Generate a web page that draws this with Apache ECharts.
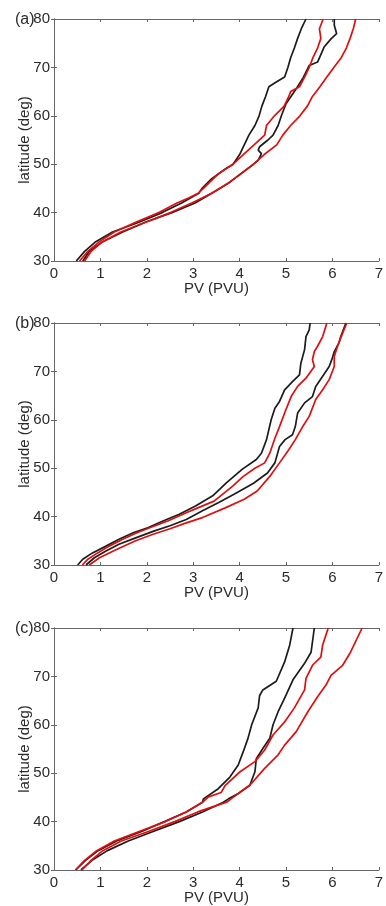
<!DOCTYPE html>
<html>
<head>
<meta charset="utf-8">
<script src="https://cdn.jsdelivr.net/npm/echarts@6/dist/echarts.min.js"></script>
<style>html,body{margin:0;padding:0;background:#fff;}#c{width:386px;height:906px;}</style>
</head>
<body>
<div id="c"></div>
<script>
// ---- axis ticks ----
var xTicks = [0, 1, 2, 3, 4, 5, 6, 7];
var yTicks = [30, 40, 50, 60, 70, 80];
var panelLabels = ['(a)', '(b)', '(c)'];

// ---- panel (a) ----
var aK1Lat = [30,32,34,36,38,40,42,44,45,47,49,50,52,54,56,58,60,62,64,66,67,68,70,72,74,76,78,80];
var aK1Pv  = [0.48,0.66,0.9,1.26,1.83,2.33,2.75,3.12,3.19,3.40,3.69,3.86,4.0,4.1,4.2,4.33,4.42,4.48,4.56,4.63,4.79,4.97,5.04,5.1,5.18,5.25,5.33,5.43];
var aR1Lat = [30,32,34,36,38,40,42,43,44,45,48,50,52,54,56,58,60,62,64,65,66,68,70,72,74,76,78,80];
var aR1Pv  = [0.55,0.73,0.98,1.3,1.76,2.26,2.65,2.9,3.11,3.22,3.54,3.86,4.08,4.31,4.54,4.58,4.75,4.96,5.06,5.1,5.29,5.4,5.5,5.58,5.68,5.75,5.72,5.8];
var aK2Lat = [30,32,34,36,38,40,42,44,46,48,50,50.8,52.2,52.9,53.6,55,56,58,60,62.5,65,67.7,70.4,71.1,74.2,75.9,77,78.7,80];
var aK2Pv  = [0.62,0.76,1.05,1.48,1.97,2.54,3.04,3.4,3.75,4.02,4.3,4.40,4.47,4.40,4.43,4.61,4.72,4.83,4.90,5.0,5.18,5.36,5.5,5.68,5.82,5.97,6.09,6.04,6.04];
var aR2Lat = [30,32,34,36,38,40,42,44,46,48,50,52,54,56,58,60,62,64,66,68,70,72,74,76,78,80];
var aR2Pv  = [0.66,0.8,1.05,1.44,1.97,2.51,2.97,3.4,3.74,4.03,4.3,4.53,4.8,4.93,5.1,5.3,5.46,5.57,5.73,5.88,6.03,6.19,6.3,6.38,6.45,6.5];

// ---- panel (b) ----
var bK1Lat = [30,31.2,32.5,33.9,35.3,36.7,37.7,39.1,40.5,42.2,44.3,47,49.8,51.8,53.1,55.9,60,62.4,63.8,66.2,68,69.3,71.7,74.5,77.2,78.6,80];
var bK1Pv  = [0.51,0.62,0.83,1.12,1.4,1.72,2.02,2.35,2.7,3.05,3.42,3.72,4.06,4.36,4.47,4.58,4.68,4.76,4.86,4.97,5.15,5.29,5.32,5.40,5.43,5.5,5.52];
var bR1Lat = [30,31.2,32.5,33.9,35.3,36.7,37.9,39.1,40.8,41.8,43.2,46.3,48.3,50,51.1,53.1,56.2,58.6,61.4,64.8,66.9,68.6,71,72.4,74.1,75.2,77.2,80];
var bR1Pv  = [0.61,0.73,0.94,1.19,1.48,1.8,2.12,2.45,2.85,3.1,3.45,3.85,4.08,4.33,4.54,4.65,4.76,4.86,4.97,5.11,5.25,5.43,5.61,5.57,5.61,5.68,5.79,5.88];
var bK2Lat = [30,31.5,32.9,34.3,35.6,37,38.1,39.4,41.2,42.9,44.6,46.9,49,51.1,54.5,55.9,56.9,58.6,61.4,63.5,64.8,66.9,69,71,72.8,74.1,75.9,77.2,80];
var bK2Pv  = [0.69,0.87,1.12,1.4,1.76,2.15,2.5,2.85,3.2,3.55,3.88,4.3,4.6,4.76,4.86,4.98,5.14,5.2,5.25,5.40,5.57,5.64,5.79,5.93,6.0,6.04,6.14,6.18,6.29];
var bR2Lat = [30,31.5,32.5,33.6,35,36.3,37.5,38.7,39.8,41.8,43.6,45.3,48.3,51.1,53.8,55.9,58.6,60.7,64.2,66.2,68.3,71,73.1,75.2,77.9,80];
var bR2Pv  = [0.76,0.98,1.19,1.44,1.76,2.12,2.5,2.85,3.2,3.69,4.1,4.38,4.65,4.86,5.06,5.2,5.36,5.50,5.64,5.79,5.93,6.04,6.04,6.11,6.22,6.31];

// ---- panel (c) ----
var cK1Lat = [30,32,34,36,38,40,42,44,44.7,46.8,49.2,51.7,54.5,57.2,60,63.5,66,67.2,69,73,76.5,80];
var cK1Pv  = [0.47,0.68,0.95,1.35,1.9,2.38,2.85,3.2,3.22,3.54,3.79,3.97,4.08,4.18,4.26,4.40,4.43,4.5,4.79,4.97,5.08,5.15];
var cR1Lat = [30,32,34,36,38,40,42,44,45.1,46,47.5,50.3,52.4,54.8,57.9,60.6,63.5,67.2,69.6,72.3,74,76.5,80];
var cR1Pv  = [0.46,0.66,0.92,1.3,1.85,2.4,2.85,3.2,3.33,3.6,3.69,4.01,4.33,4.54,4.72,4.97,5.18,5.40,5.43,5.57,5.75,5.79,5.91];
var cK2Lat = [30,32,34,36,38,40,42,44,44.7,45.8,47.5,50.3,53,55.1,57.2,60,62.7,65.5,69.3,72.7,75,80];
var cK2Pv  = [0.58,0.82,1.15,1.6,2.15,2.7,3.2,3.65,3.76,3.97,4.22,4.33,4.36,4.50,4.65,4.72,4.83,4.97,5.15,5.40,5.54,5.61];
var cR2Lat = [30,32,34,36,38,40,42,43,44,44.8,47.5,51,53.8,55.8,58.6,62.7,65.8,68.2,70.2,72.3,75,80];
var cR2Pv  = [0.6,0.8,1.05,1.45,2.05,2.6,3.1,3.4,3.72,3.83,4.22,4.54,4.83,4.97,5.22,5.47,5.68,5.86,5.97,6.22,6.39,6.64];

var BLACK = '#1c1c1c', RED = '#dd0f0f';
var panels = [
  [[aK1Pv,aK1Lat,BLACK],[aK2Pv,aK2Lat,BLACK],[aR1Pv,aR1Lat,RED],[aR2Pv,aR2Lat,RED]],
  [[bK1Pv,bK1Lat,BLACK],[bK2Pv,bK2Lat,BLACK],[bR1Pv,bR1Lat,RED],[bR2Pv,bR2Lat,RED]],
  [[cK1Pv,cK1Lat,BLACK],[cK2Pv,cK2Lat,BLACK],[cR1Pv,cR1Lat,RED],[cR2Pv,cR2Lat,RED]]
];
var tops = [19, 323, 628];
var FONT = 'Liberation Sans, Arial, sans-serif';
var AX = '#666666', TXT = '#2b2b2b';

var grid = [], xAxis = [], yAxis = [], series = [], title = [];
panels.forEach(function (p, g) {
  grid.push({left: 54, right: 4, top: tops[g], height: 242, containLabel: false});
  title.push({text: panelLabels[g], left: 10, top: tops[g] - 12,
    textStyle: {fontFamily: FONT, fontSize: 16, fontWeight: 'normal', color: TXT}});
  var common = {min: xTicks[0], max: xTicks[xTicks.length-1], interval: 1, gridIndex: g,
    axisLine: {show: true, lineStyle: {color: AX, width: 1}},
    axisTick: {show: true, inside: true, length: 3, lineStyle: {color: AX}},
    splitLine: {show: false}};
  xAxis.push(Object.assign({}, common, {type: 'value', position: 'bottom',
    name: 'PV (PVU)', nameLocation: 'middle', nameGap: 20, nameMoveOverlap: false,
    nameTextStyle: {fontFamily: FONT, fontSize: 15, color: TXT},
    axisLabel: {fontFamily: FONT, fontSize: 15, color: TXT, margin: 5}}));
  xAxis.push(Object.assign({}, common, {type: 'value', position: 'top', axisLabel: {show: false}}));
  var ycommon = {min: yTicks[0], max: yTicks[yTicks.length-1], interval: 10, gridIndex: g,
    axisLine: {show: true, lineStyle: {color: AX, width: 1}},
    axisTick: {show: true, inside: true, length: 3, lineStyle: {color: AX}},
    splitLine: {show: false}};
  yAxis.push(Object.assign({}, ycommon, {type: 'value', position: 'left',
    name: 'latitude (deg)', nameLocation: 'middle', nameGap: 22, nameMoveOverlap: false,
    nameTextStyle: {fontFamily: FONT, fontSize: 15, color: TXT},
    axisLabel: {fontFamily: FONT, fontSize: 15, color: TXT, margin: 4}}));
  yAxis.push(Object.assign({}, ycommon, {type: 'value', position: 'right', axisLabel: {show: false}}));
  p.forEach(function (s) {
    series.push({type: 'line', xAxisIndex: 2*g, yAxisIndex: 2*g, showSymbol: false, symbol: 'none',
      animation: false, smooth: false,
      lineStyle: {color: s[2], width: 1.7},
      data: s[0].map(function (v, i) { return [v, s[1][i]]; })});
  });
});

var chart = echarts.init(document.getElementById('c'), null, {renderer: 'canvas'});
chart.setOption({animation: false, backgroundColor: '#fff', title: title, grid: grid,
  xAxis: xAxis, yAxis: yAxis, series: series});
</script>
</body>
</html>
